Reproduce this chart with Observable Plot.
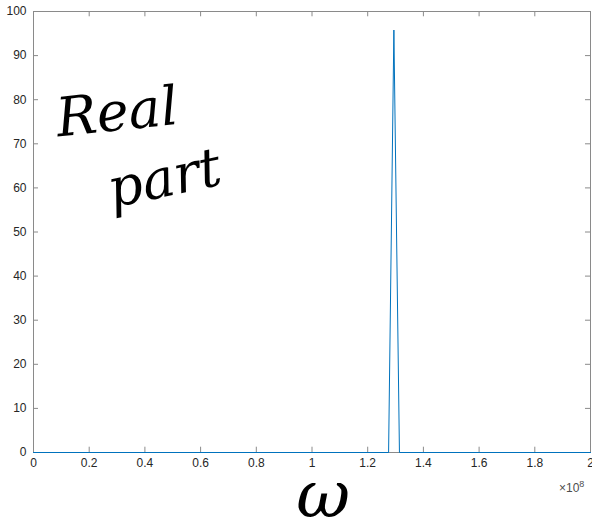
<!DOCTYPE html>
<html>
<head>
<meta charset="utf-8">
<script src="https://cdn.jsdelivr.net/npm/d3@7"></script>
<script src="https://cdn.jsdelivr.net/npm/@observablehq/plot@0.6"></script>
<style>
  html, body { margin: 0; padding: 0; background: #fff; }
  #chart { position: relative; width: 592px; height: 530px; }
  #chart svg { display: block; }
  .expo { position: absolute; left: 559px; top: 479px; font: 12px "Liberation Sans", Arial, sans-serif; color: #4d4d4d; }
  .expo sup { font-size: 9px; }
</style>
</head>
<body>
<div id="chart"></div>
<script>
// ω in units of 1e8, real part
const omega = [0, 1.275, 1.294, 1.314, 2];
const realPart = [0, 0, 95.8, 0, 0];
const xTicks = [0, 0.2, 0.4, 0.6, 0.8, 1, 1.2, 1.4, 1.6, 1.8, 2];
const yTicks = [0, 10, 20, 30, 40, 50, 60, 70, 80, 90, 100];
// handwritten annotations
const noteText = ["Real", "part"];
const noteX = [0.30, 0.47];
const noteY = [77, 62];
const noteRot = [-6, -12];
const xLabel = "ω";
const xLabelPos = 1.04;

const data = omega.map((w, i) => ({w, v: realPart[i]}));
const notes = noteText.map((t, i) => ({t, x: noteX[i], y: noteY[i], r: noteRot[i]}));

const axisColor = "#8a8a8a";
const fmt = d => d === 0 ? "0" : String(d);

const chart = Plot.plot({
  width: 592,
  height: 530,
  marginLeft: 33,
  marginRight: 2,
  marginTop: 11,
  marginBottom: 78,
  style: {fontFamily: "'Liberation Sans', Arial, sans-serif", fontSize: "12px", color: "#262626", background: "#fff"},
  x: {domain: [0, 2]},
  y: {domain: [0, 100]},
  marks: [
    Plot.frame({stroke: axisColor}),
    Plot.axisX({anchor: "bottom", ticks: xTicks, tickFormat: fmt, tickSize: 0, tickPadding: 6, label: null, fontSize: 12, fill: "#262626"}),
    Plot.axisY({anchor: "left", ticks: yTicks, tickFormat: fmt, tickSize: 0, tickPadding: 7, label: null, fontSize: 12, fill: "#262626"}),
    Plot.ruleX(xTicks, {x: d => d, y1: 0, y2: 1.2, stroke: axisColor}),
    Plot.ruleX(xTicks, {x: d => d, y1: 100, y2: 98.8, stroke: axisColor}),
    Plot.ruleY(yTicks, {y: d => d, x1: 0, x2: 0.018, stroke: axisColor}),
    Plot.ruleY(yTicks, {y: d => d, x1: 2, x2: 1.982, stroke: axisColor}),
    Plot.line(data, {x: "w", y: "v", stroke: "#0072BD", strokeWidth: 1}),
    Plot.text(notes, {x: "x", y: "y", text: "t", rotate: "r", fontSize: 54, fontStyle: "italic", fontFamily: "'DejaVu Serif', serif", fontWeight: 300, fill: "#000"}),
    Plot.text([xLabel], {x: () => xLabelPos, frameAnchor: "bottom", dy: 64, text: d => d, fontSize: 66, fontStyle: "italic", fontFamily: "'DejaVu Serif', serif", fill: "#000"})
  ]
});
const host = document.getElementById("chart");
host.appendChild(chart);
const ex = document.createElement("div");
ex.className = "expo";
ex.innerHTML = "×10<sup>8</sup>";
host.appendChild(ex);
</script>
</body>
</html>
